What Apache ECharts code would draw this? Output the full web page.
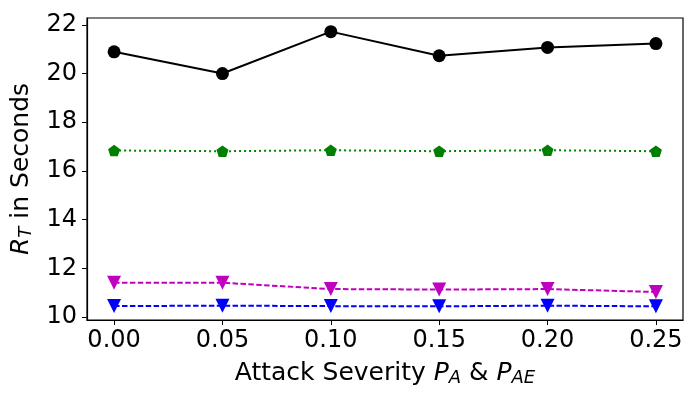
<!DOCTYPE html>
<html><head><meta charset="utf-8">
<script src="https://cdn.jsdelivr.net/npm/echarts@6/dist/echarts.min.js"></script>
<style>html,body{margin:0;padding:0;background:#fff}#c{width:700px;height:400px}</style>
</head><body><div id="c"></div>
<script>
const xValues = [0.00, 0.05, 0.10, 0.15, 0.20, 0.25];
const xTicks = [0.00, 0.05, 0.10, 0.15, 0.20, 0.25];
const yTicks = [10, 12, 14, 16, 18, 20, 22];
const blackSeries = [20.89, 20.00, 21.72, 20.73, 21.07, 21.23];
const greenSeries = [16.84, 16.81, 16.85, 16.81, 16.85, 16.81];
const magentaSeries = [11.41, 11.41, 11.15, 11.13, 11.15, 11.03];
const blueSeries = [10.45, 10.47, 10.45, 10.44, 10.47, 10.44];

const F = 'DejaVu Sans';
const pent = 'path://M0,-1 L0.951,-0.309 L0.588,0.809 L-0.588,0.809 L-0.951,-0.309 Z';
const pairs = arr => xValues.map((x, i) => [x, arr[i]]);
const chart = echarts.init(document.getElementById('c'));
const sub = {fontFamily: F, fontSize: 18, fontStyle: 'italic', color: '#000', padding: [10, 0, 0, 0], verticalAlign: 'bottom'};
const it = {fontFamily: F, fontSize: 25, fontStyle: 'italic', color: '#000'};
const nm = {fontFamily: F, fontSize: 25, color: '#000'};
chart.setOption({
  animation: false,
  grid: {left: 87, right: 17, top: 18, bottom: 80, show: true, borderColor: '#000', borderWidth: 1.2, backgroundColor: 'transparent'},
  xAxis: {
    type: 'value', min: -0.0125, max: 0.2625,
    axisLine: {show: true, onZero: false, lineStyle: {color: '#000', width: 1.2}},
    axisTick: {show: true, length: 5, lineStyle: {color: '#000'}, customValues: xTicks},
    axisLabel: {customValues: xTicks, formatter: v => v.toFixed(2), fontFamily: F, fontSize: 24, color: '#000', margin: 9},
    splitLine: {show: false},
    name: '{n|Attack Severity }{i|P}{s|A}{n| & }{i|P}{s|AE}',
    nameLocation: 'middle', nameGap: 39,
    nameTextStyle: {rich: {n: nm, i: it, s: sub}}
  },
  yAxis: {
    type: 'value', min: 9.88, max: 22.28,
    axisLine: {show: true, onZero: false, lineStyle: {color: '#000', width: 1.2}},
    axisTick: {show: true, length: 5, lineStyle: {color: '#000'}, customValues: yTicks},
    axisLabel: {customValues: yTicks, fontFamily: F, fontSize: 24, color: '#000', margin: 10},
    splitLine: {show: false},
    name: '{i|R}{s|T}{n| in Seconds}',
    nameLocation: 'middle', nameGap: 49, nameRotate: 90,
    nameTextStyle: {rich: {n: nm, i: it, s: sub}}
  },
  series: [
    {type: 'line', data: pairs(blackSeries), symbol: 'circle', symbolSize: 13,
     itemStyle: {color: '#000'}, lineStyle: {color: '#000', width: 2}},
    {type: 'line', data: pairs(greenSeries), symbol: pent, symbolSize: 12, symbolKeepAspect: true,
     itemStyle: {color: '#008000'}, lineStyle: {color: '#008000', width: 2, type: [2, 3]}},
    {type: 'line', data: pairs(magentaSeries), symbol: 'triangle', symbolRotate: 180, symbolSize: 14,
     itemStyle: {color: '#bf00bf'}, lineStyle: {color: '#bf00bf', width: 2, type: [5.5, 2.4]}},
    {type: 'line', data: pairs(blueSeries), symbol: 'triangle', symbolRotate: 180, symbolSize: 14,
     itemStyle: {color: '#0000ff'}, lineStyle: {color: '#0000ff', width: 2, type: [5.5, 2.4]}}
  ]
});
</script></body></html>
